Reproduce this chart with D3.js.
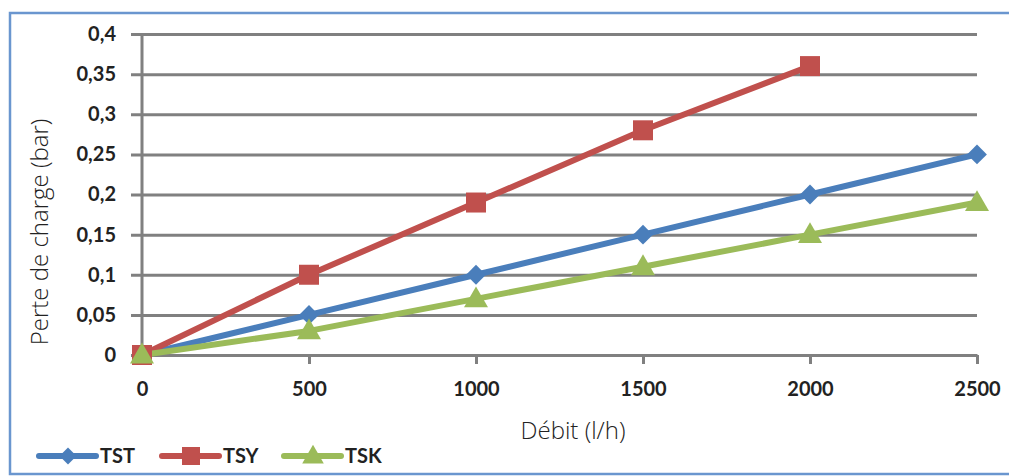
<!DOCTYPE html>
<html><head><meta charset="utf-8">
<script src="https://cdn.jsdelivr.net/npm/d3@7"></script>
<style>body{margin:0;background:#fff;} svg{display:block;}</style>
</head><body>
<script>
const xValues = [0, 500, 1000, 1500, 2000, 2500];
const tst = [0, 0.05, 0.1, 0.15, 0.2, 0.25];
const tsy = [0, 0.1, 0.19, 0.28, 0.36];
const tsk = [0, 0.03, 0.07, 0.11, 0.15, 0.19];
const yTicks = [0, 0.05, 0.1, 0.15, 0.2, 0.25, 0.3, 0.35, 0.4];
const seriesNames = ["TST", "TSY", "TSK"];
const colors = ["#4a7ebb", "#c0504d", "#9bbb59"];

const W = 1009, H = 476;
const svg = d3.select("body").append("svg").attr("width", W).attr("height", H);
svg.append("rect").attr("x", 10).attr("y", 13).attr("width", 1010).attr("height", 461)
  .attr("fill", "#fff").attr("stroke", "#6a96cf").attr("stroke-width", 2.5);

const x = d3.scaleLinear().domain([0, 2500]).range([142, 977]);
const y = d3.scaleLinear().domain([0, 0.4]).range([355, 34]);
const fmt = d => d3.format("~g")(d).replace(".", ",");
const grey = "#808080";
const labelFont = "Lato, 'Open Sans', sans-serif";

const gy = svg.append("g").attr("transform", "translate(142,0)")
  .call(d3.axisLeft(y).tickValues(yTicks).tickFormat(fmt).tickSize(-835).tickSizeOuter(0).tickPadding(26));
gy.select(".domain").remove();
gy.selectAll(".tick line").attr("stroke", grey).attr("stroke-width", 3).attr("x1", -11);
gy.selectAll(".tick text").attr("font-family", labelFont).attr("font-weight", 700)
  .attr("font-size", 20).attr("fill", "#222");
svg.append("line").attr("x1", 142).attr("x2", 142).attr("y1", y(0.4)).attr("y2", y(0))
  .attr("stroke", grey).attr("stroke-width", 3);

const gx = svg.append("g").attr("transform", `translate(0,${y(0)})`)
  .call(d3.axisBottom(x).tickValues(xValues).tickFormat(d3.format("d")).tickSize(9).tickSizeOuter(0).tickPadding(18));
gx.select(".domain").attr("stroke", grey).attr("stroke-width", 3);
gx.selectAll(".tick line").attr("stroke", grey).attr("stroke-width", 3);
gx.selectAll(".tick text").attr("font-family", labelFont).attr("font-weight", 700)
  .attr("font-size", 20).attr("fill", "#222");

svg.append("text").attr("x", 573).attr("y", 439).attr("text-anchor", "middle")
  .attr("font-family", "'Open Sans', sans-serif").attr("font-weight", 300).attr("font-size", 24)
  .attr("fill", "#222").text("Débit (l/h)");
svg.append("text").attr("transform", "translate(48,232) rotate(-90)").attr("text-anchor", "middle")
  .attr("font-family", "'Open Sans', sans-serif").attr("font-weight", 300).attr("font-size", 24)
  .attr("fill", "#222").text("Perte de charge (bar)");

function marker(sel, k, s) {
  if (k === 0) {
    sel.append("rect").attr("x", -s / 2).attr("y", -s / 2).attr("width", s).attr("height", s)
      .attr("transform", "rotate(45)").attr("fill", colors[k]);
  } else if (k === 1) {
    sel.append("rect").attr("x", -s / 2).attr("y", -s / 2).attr("width", s).attr("height", s).attr("fill", colors[k]);
  } else {
    sel.append("path").attr("d", `M0,${-s * 0.62}L${s * 0.6},${s * 0.42}L${-s * 0.6},${s * 0.42}Z`).attr("fill", colors[k]);
  }
}

const data = [tst, tsy, tsk];
const line = d3.line().x((d, i) => x(xValues[i])).y(d => y(d));
data.forEach((vals, k) => {
  svg.append("path").datum(vals).attr("d", line).attr("fill", "none")
    .attr("stroke", colors[k]).attr("stroke-width", 6).attr("stroke-linejoin", "round");
});
data.forEach((vals, k) => {
  const s = k === 0 ? 14 : (k === 1 ? 20 : 20);
  vals.forEach((d, i) => {
    const g = svg.append("g").attr("transform", `translate(${x(xValues[i])},${y(d)})`);
    marker(g, k, s);
  });
});

const legX = [39, 162, 284];
seriesNames.forEach((n, k) => {
  const g = svg.append("g").attr("transform", `translate(${legX[k]},456)`);
  g.append("line").attr("x1", 0).attr("x2", 57).attr("stroke", colors[k]).attr("stroke-width", 6).attr("stroke-linecap", "round");
  const m = g.append("g").attr("transform", "translate(29,0)");
  marker(m, k, k === 0 ? 12 : 18);
  g.append("text").attr("x", 61).attr("y", 7).attr("font-family", labelFont).attr("font-weight", 700)
    .attr("font-size", 20).attr("fill", "#222").text(n);
});
</script>
</body></html>
